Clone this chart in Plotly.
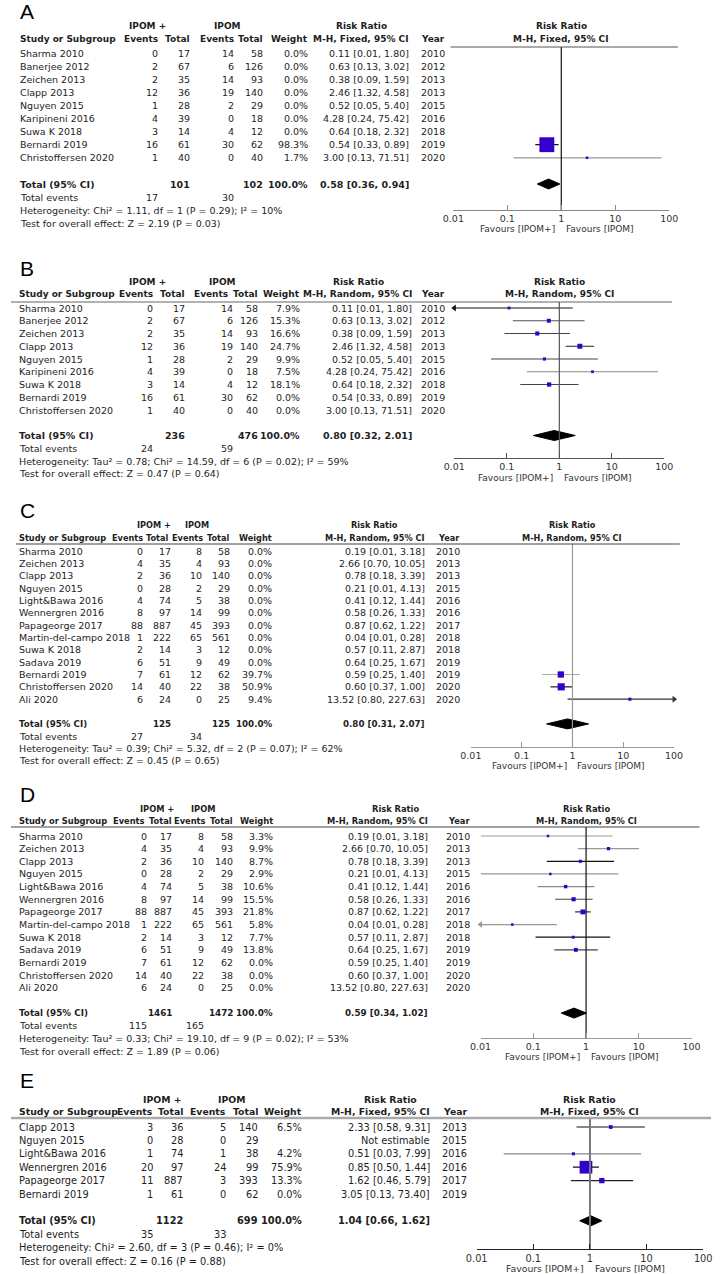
import math
import plotly.graph_objects as go

# ===================== DATA =====================
# Panels A and B share the same studies
studies_ab = ["Sharma 2010", "Banerjee 2012", "Zeichen 2013", "Clapp 2013", "Nguyen 2015",
              "Karipineni 2016", "Suwa K 2018", "Bernardi 2019", "Christoffersen 2020"]
years_ab = [2010, 2012, 2013, 2013, 2015, 2016, 2018, 2019, 2020]
ev_plus_ab = [0, 2, 2, 12, 1, 4, 3, 16, 1]
tot_plus_ab = [17, 67, 35, 36, 28, 39, 14, 61, 40]
ev_ipom_ab = [14, 6, 14, 19, 2, 0, 4, 30, 0]
tot_ipom_ab = [58, 126, 93, 140, 29, 18, 12, 62, 40]
rr_ab = [0.11, 0.63, 0.38, 2.46, 0.52, 4.28, 0.64, 0.54, 3.00]
rr_lo_ab = [0.01, 0.13, 0.09, 1.32, 0.05, 0.24, 0.18, 0.33, 0.13]
rr_hi_ab = [1.80, 3.02, 1.59, 4.58, 5.40, 75.42, 2.32, 0.89, 71.51]
weight_a = [0.0, 0.0, 0.0, 0.0, 0.0, 0.0, 0.0, 98.3, 1.7]
weight_b = [7.9, 15.3, 16.6, 24.7, 9.9, 7.5, 18.1, 0.0, 0.0]

# Panels C and D share the same studies
studies_cd = ["Sharma 2010", "Zeichen 2013", "Clapp 2013", "Nguyen 2015", "Light&Bawa 2016",
              "Wennergren 2016", "Papageorge 2017", "Martin-del-campo 2018", "Suwa K 2018",
              "Sadava 2019", "Bernardi 2019", "Christoffersen 2020", "Ali 2020"]
years_cd = [2010, 2013, 2013, 2015, 2016, 2016, 2017, 2018, 2018, 2019, 2019, 2020, 2020]
ev_plus_cd = [0, 4, 2, 0, 4, 8, 88, 1, 2, 6, 7, 14, 6]
tot_plus_cd = [17, 35, 36, 28, 74, 97, 887, 222, 14, 51, 61, 40, 24]
ev_ipom_cd = [8, 4, 10, 2, 5, 14, 45, 65, 3, 9, 12, 22, 0]
tot_ipom_cd = [58, 93, 140, 29, 38, 99, 393, 561, 12, 49, 62, 38, 25]
rr_cd = [0.19, 2.66, 0.78, 0.21, 0.41, 0.58, 0.87, 0.04, 0.57, 0.64, 0.59, 0.60, 13.52]
rr_lo_cd = [0.01, 0.70, 0.18, 0.01, 0.12, 0.26, 0.62, 0.01, 0.11, 0.25, 0.25, 0.37, 0.80]
rr_hi_cd = [3.18, 10.05, 3.39, 4.13, 1.44, 1.33, 1.22, 0.28, 2.87, 1.67, 1.40, 1.00, 227.63]
weight_c = [0.0, 0.0, 0.0, 0.0, 0.0, 0.0, 0.0, 0.0, 0.0, 0.0, 39.7, 50.9, 9.4]
weight_d = [3.3, 9.9, 8.7, 2.9, 10.6, 15.5, 21.8, 5.8, 7.7, 13.8, 0.0, 0.0, 0.0]

# Panel E
studies_e = ["Clapp 2013", "Nguyen 2015", "Light&Bawa 2016", "Wennergren 2016",
             "Papageorge 2017", "Bernardi 2019"]
years_e = [2013, 2015, 2016, 2016, 2017, 2019]
ev_plus_e = [3, 0, 1, 20, 11, 1]
tot_plus_e = [36, 28, 74, 97, 887, 61]
ev_ipom_e = [5, 0, 1, 24, 3, 0]
tot_ipom_e = [140, 29, 38, 99, 393, 62]
rr_e = [2.33, None, 0.51, 0.85, 1.62, 3.05]
rr_lo_e = [0.58, None, 0.03, 0.50, 0.46, 0.13]
rr_hi_e = [9.31, None, 7.99, 1.44, 5.79, 73.40]
weight_e = [6.5, None, 4.2, 75.9, 13.3, 0.0]

# Pooled results
panel_labels = ["A", "B", "C", "D", "E"]
methods = ["M-H, Fixed, 95% CI", "M-H, Random, 95% CI", "M-H, Random, 95% CI",
           "M-H, Random, 95% CI", "M-H, Fixed, 95% CI"]
total_plus = [101, 236, 125, 1461, 1122]
total_ipom = [102, 476, 125, 1472, 699]
events_plus = [17, 24, 27, 115, 35]
events_ipom = [30, 59, 34, 165, 33]
pooled_rr = [0.58, 0.80, 0.80, 0.59, 1.04]
pooled_lo = [0.36, 0.32, 0.31, 0.34, 0.66]
pooled_hi = [0.94, 2.01, 2.07, 1.02, 1.62]
heterogeneity = [
    "Heterogeneity: Chi² = 1.11, df = 1 (P = 0.29); I² = 10%",
    "Heterogeneity: Tau² = 0.78; Chi² = 14.59, df = 6 (P = 0.02); I² = 59%",
    "Heterogeneity: Tau² = 0.39; Chi² = 5.32, df = 2 (P = 0.07); I² = 62%",
    "Heterogeneity: Tau² = 0.33; Chi² = 19.10, df = 9 (P = 0.02); I² = 53%",
    "Heterogeneity: Chi² = 2.60, df = 3 (P = 0.46); I² = 0%",
]
overall_test = [
    "Test for overall effect: Z = 2.19 (P = 0.03)",
    "Test for overall effect: Z = 0.47 (P = 0.64)",
    "Test for overall effect: Z = 0.45 (P = 0.65)",
    "Test for overall effect: Z = 1.89 (P = 0.06)",
    "Test for overall effect: Z = 0.16 (P = 0.88)",
]
tick_vals = [0.01, 0.1, 1, 10, 100]
tick_text = ["0.01", "0.1", "1", "10", "100"]

# ===================== STYLE / GEOMETRY =====================
W, H = 720, 1274
FONT = "DejaVu Sans"
TXT = "#1e1e1e"
SQ = "#3300cc"

geoms = [
    dict(label_y=11, h1=26, h2=39, line_y=47, line_x=(452, 686), line_c="#555", line_w=1,
         y0=53, dy=13.1, axis_y=210, fav_y=229, x001=455, x100=677,
         name=8, ev1=152, tot1=185, ev2=230, tot2=260, wt=307, rr=410, year=447,
         hplus=140, hipom=223, hrr=361, vline="#111", vw=1.2, axc="#888", sqk=1.5,
         fs=9.5, hfs=9),
    dict(label_y=268, h1=282, h2=294, line_y=302, line_x=(0, 680), line_c="#666", line_w=1.2,
         y0=308, dy=12.75, axis_y=458, fav_y=478, x001=456, x100=672,
         name=7, ev1=147, tot1=180, ev2=229, tot2=255, wt=298, rr=413, year=447,
         hplus=140, hipom=218, hrr=357, vline="#555", vw=1.2, axc="#555", sqk=1.0,
         fs=9.5, hfs=9, h_ev2=224),
    dict(label_y=510, h1=525, h2=538, line_y=544, line_x=(5, 688), line_c="#444", line_w=1.2,
         y0=551, dy=12.35, axis_y=747, fav_y=766, x001=473, x100=682,
         name=7, ev1=137, tot1=166, ev2=197, tot2=226, wt=269, rr=427, year=463,
         hplus=147, hipom=191, hrr=374, vline="#999", vw=1.2, axc="#999", sqk=1.0,
         fs=9.5, hfs=8.2, h_tot1=164, h_ev2=198),
    dict(label_y=794, h1=809, h2=821, line_y=827, line_x=(0, 708), line_c="#444", line_w=1.2,
         y0=836, dy=12.65, axis_y=1038, fav_y=1057, x001=483, x100=700,
         name=7, ev1=141, tot1=167, ev2=200, tot2=229, wt=271, rr=430, year=473,
         hplus=150, hipom=197, hrr=395, vline="#111", vw=1.2, axc="#999", sqk=1.05,
         fs=9.5, hfs=8.3, h_ev1=139, h_tot1=167, h_ev2=202),
    dict(label_y=1080, h1=1099, h2=1111, line_y=1118, line_x=(0, 720), line_c="#aaa", line_w=2.5,
         y0=1127, dy=13.4, axis_y=1249, fav_y=1268, x001=479, x100=712,
         name=7, ev1=147, tot1=178, ev2=222, tot2=255, wt=300, rr=432, year=470,
         hplus=155, hipom=227, hrr=390, vline="#777", vw=2, axc="#222", sqk=1.46,
         fs=9.8, hfs=9.3),
]
ci_colors = [
    ["#111"] * 7 + ["#111", "#999"],
    ["#111", "#555", "#444", "#222", "#444", "#888", "#444", "#444", "#444"],
    ["#444"] * 10 + ["#aaa", "#222", "#333"],
    ["#999", "#999", "#111", "#999", "#888", "#444", "#333", "#999", "#111", "#444", "#444", "#444", "#444"],
    ["#111", "#111", "#888", "#111", "#222", "#111"],
]

# ===================== BUILD =====================
panels = [
    dict(st=studies_ab, yr=years_ab, e1=ev_plus_ab, t1=tot_plus_ab, e2=ev_ipom_ab, t2=tot_ipom_ab,
         rr=rr_ab, lo=rr_lo_ab, hi=rr_hi_ab, w=weight_a),
    dict(st=studies_ab, yr=years_ab, e1=ev_plus_ab, t1=tot_plus_ab, e2=ev_ipom_ab, t2=tot_ipom_ab,
         rr=rr_ab, lo=rr_lo_ab, hi=rr_hi_ab, w=weight_b),
    dict(st=studies_cd, yr=years_cd, e1=ev_plus_cd, t1=tot_plus_cd, e2=ev_ipom_cd, t2=tot_ipom_cd,
         rr=rr_cd, lo=rr_lo_cd, hi=rr_hi_cd, w=weight_c),
    dict(st=studies_cd, yr=years_cd, e1=ev_plus_cd, t1=tot_plus_cd, e2=ev_ipom_cd, t2=tot_ipom_cd,
         rr=rr_cd, lo=rr_lo_cd, hi=rr_hi_cd, w=weight_d),
    dict(st=studies_e, yr=years_e, e1=ev_plus_e, t1=tot_plus_e, e2=ev_ipom_e, t2=tot_ipom_e,
         rr=rr_e, lo=rr_lo_e, hi=rr_hi_e, w=weight_e),
]


def exact_bounds(a, n1, c, n2):
    """Unrounded CI of a single-study risk ratio (0.5 correction), used for arrow clipping."""
    if a == 0 and c == 0:
        return None
    if a == 0 or c == 0:
        a, c, n1, n2 = a + 0.5, c + 0.5, n1 + 1, n2 + 1
    r = (a / n1) / (c / n2)
    se = math.sqrt(1 / a - 1 / n1 + 1 / c - 1 / n2)
    return r * math.exp(-1.96 * se), r * math.exp(1.96 * se)


fig = go.Figure()
annotations = []
shapes = []


def txt(x_px, y, text, anchor="left", bold=False, yref="paper", size=9.5, color=TXT, family=FONT):
    if bold:
        text = f"<b>{text}</b>"
    annotations.append(dict(x=x_px / W, xref="paper", y=y, yref=yref, text=text,
                            xanchor=anchor, yanchor="middle", showarrow=False, borderpad=0,
                            font=dict(family=family, size=size, color=color)))


def py(px):
    return 1 - px / H


for k, (P, G) in enumerate(zip(panels, geoms), start=1):
    sfx = "" if k == 1 else str(k)
    xa, ya = "x" + sfx, "y" + sfx
    p = k - 1
    fs, hfs = G["fs"], G["hfs"]
    n = len(P["st"])
    px1 = G["x001"] + (G["x100"] - G["x001"]) / 2
    rowv = lambda pix: (pix - G["y0"]) / G["dy"]

    # axes
    fig.update_layout(**{
        "xaxis" + sfx: dict(type="log", range=[-2, 2], domain=[G["x001"] / W, G["x100"] / W],
                            anchor="free", position=py(G["axis_y"]), showline=True,
                            linecolor=G["axc"], linewidth=1, ticks="inside", ticklen=5,
                            tickcolor=G["axc"], tickvals=tick_vals, ticktext=tick_text,
                            showgrid=False, zeroline=False, fixedrange=True,
                            tickfont=dict(family=FONT, size=fs, color="#333")),
        "yaxis" + sfx: dict(domain=[0, 1], range=[(H - G["y0"]) / G["dy"], -G["y0"] / G["dy"]],
                            visible=False, fixedrange=True, anchor=xa),
    })

    # panel label
    txt(8, py(G["label_y"]), panel_labels[p], family="Liberation Sans", size=21, color="#000")

    # headers
    txt(G["hplus"], py(G["h1"]), "IPOM +", "center", True, size=hfs)
    txt(G["hipom"], py(G["h1"]), "IPOM", "center", True, size=hfs)
    txt(G["hrr"], py(G["h1"]), "Risk Ratio", "center", True, size=hfs)
    txt(px1, py(G["h1"]), "Risk Ratio", "center", True, size=hfs)
    txt(G["name"], py(G["h2"]), "Study or Subgroup", "left", True, size=hfs)
    for col, lab in [("ev1", "Events"), ("tot1", "Total"), ("ev2", "Events"), ("tot2", "Total"),
                     ("wt", "Weight"), ("rr", methods[p]), ("year", "Year")]:
        txt(G.get("h_" + col, G[col]), py(G["h2"]), lab, "right", True, size=hfs)
    txt(px1, py(G["h2"]), methods[p], "center", True, size=hfs)
    shapes.append(dict(type="line", xref="paper", yref="paper", x0=G["line_x"][0] / W,
                       x1=G["line_x"][1] / W, y0=py(G["line_y"]), y1=py(G["line_y"]),
                       line=dict(color=G["line_c"], width=G["line_w"])))

    # study rows
    for i in range(n):
        txt(G["name"], i, P["st"][i], "left", yref=ya, size=fs)
        txt(G["ev1"], i, str(P["e1"][i]), "right", yref=ya, size=fs)
        txt(G["tot1"], i, str(P["t1"][i]), "right", yref=ya, size=fs)
        txt(G["ev2"], i, str(P["e2"][i]), "right", yref=ya, size=fs)
        txt(G["tot2"], i, str(P["t2"][i]), "right", yref=ya, size=fs)
        w = P["w"][i]
        txt(G["wt"], i, "" if w is None else f"{w:.1f}%", "right", yref=ya, size=fs)
        r = P["rr"][i]
        rtxt = "Not estimable" if r is None else f"{r:.2f} [{P['lo'][i]:.2f}, {P['hi'][i]:.2f}]"
        txt(G["rr"], i, rtxt, "right", yref=ya, size=fs)
        txt(G["year"], i, str(P["yr"][i]), "right", yref=ya, size=fs)

        if r is None or not w:
            continue
        col = ci_colors[p][i]
        lo_c, hi_c = max(P["lo"][i], 0.01), min(P["hi"][i], 100)
        fig.add_trace(go.Scatter(x=[lo_c, hi_c], y=[i, i], mode="lines", xaxis=xa, yaxis=ya,
                                 line=dict(color=col, width=1.2), hoverinfo="skip",
                                 showlegend=False, cliponaxis=False))
        eb = exact_bounds(P["e1"][i], P["t1"][i], P["e2"][i], P["t2"][i])
        if eb and eb[0] < 0.01:
            fig.add_trace(go.Scatter(x=[0.01], y=[i], mode="markers", xaxis=xa, yaxis=ya,
                                     marker=dict(symbol="triangle-left", size=6, color=col),
                                     hoverinfo="skip", showlegend=False, cliponaxis=False))
        if eb and eb[1] > 100:
            fig.add_trace(go.Scatter(x=[100], y=[i], mode="markers", xaxis=xa, yaxis=ya,
                                     marker=dict(symbol="triangle-right", size=6, color=col),
                                     hoverinfo="skip", showlegend=False, cliponaxis=False))
        size = max(G["sqk"] * math.sqrt(w), 2.5)
        fig.add_trace(go.Scatter(x=[r], y=[i], mode="markers", xaxis=xa, yaxis=ya,
                                 marker=dict(symbol="square", size=size, color=SQ,
                                             line=dict(width=0)),
                                 hoverinfo="skip", showlegend=False, cliponaxis=False))

    # total rows
    it = n + 1
    txt(G["name"], it, "Total (95% CI)", "left", True, yref=ya, size=hfs + 0.5)
    txt(G["tot1"], it, str(total_plus[p]), "right", True, yref=ya, size=hfs + 0.5)
    txt(G["tot2"], it, str(total_ipom[p]), "right", True, yref=ya, size=hfs + 0.5)
    txt(G["wt"], it, "100.0%", "right", True, yref=ya, size=hfs + 0.5)
    txt(G["rr"], it, f"{pooled_rr[p]:.2f} [{pooled_lo[p]:.2f}, {pooled_hi[p]:.2f}]", "right",
        True, yref=ya, size=hfs + 0.5)
    txt(G["name"], it + 1, "Total events", "left", yref=ya, size=fs)
    txt(G["ev1"], it + 1, str(events_plus[p]), "right", yref=ya, size=fs)
    txt(G["ev2"], it + 1, str(events_ipom[p]), "right", yref=ya, size=fs)
    txt(G["name"], it + 2, heterogeneity[p], "left", yref=ya, size=fs)
    txt(G["name"], it + 3, overall_test[p], "left", yref=ya, size=fs)

    # pooled diamond
    hd = 5.0 / G["dy"]
    fig.add_trace(go.Scatter(
        x=[pooled_lo[p], pooled_rr[p], pooled_hi[p], pooled_rr[p], pooled_lo[p]],
        y=[it, it - hd, it, it + hd, it], mode="lines", fill="toself", fillcolor="#000",
        line=dict(color="#000", width=1), xaxis=xa, yaxis=ya, hoverinfo="skip",
        showlegend=False, cliponaxis=False))

    # line of no effect
    fig.add_trace(go.Scatter(x=[1, 1], y=[rowv(G["line_y"]), rowv(G["axis_y"])], mode="lines",
                             line=dict(color=G["vline"], width=G["vw"]), xaxis=xa, yaxis=ya,
                             hoverinfo="skip", showlegend=False, cliponaxis=False))

    # favours labels
    annotations.append(dict(x=(px1 - 5) / W, xref="paper", y=py(G["fav_y"]), yref="paper",
                            text="Favours [IPOM+]", xanchor="right", yanchor="middle",
                            showarrow=False, borderpad=0,
                            font=dict(family=FONT, size=fs - 0.5, color="#333")))
    annotations.append(dict(x=(px1 + 4) / W, xref="paper", y=py(G["fav_y"]), yref="paper",
                            text="Favours [IPOM]", xanchor="left", yanchor="middle",
                            showarrow=False, borderpad=0,
                            font=dict(family=FONT, size=fs - 0.5, color="#333")))

fig.update_layout(width=W, height=H, autosize=False, margin=dict(l=0, r=0, t=0, b=0),
                  paper_bgcolor="white", plot_bgcolor="rgba(0,0,0,0)", showlegend=False,
                  hovermode=False, annotations=annotations, shapes=shapes,
                  font=dict(family=FONT, color=TXT))
fig.write_html("out.html", config={"displayModeBar": False},
               post_script="document.body.style.margin='0';")
